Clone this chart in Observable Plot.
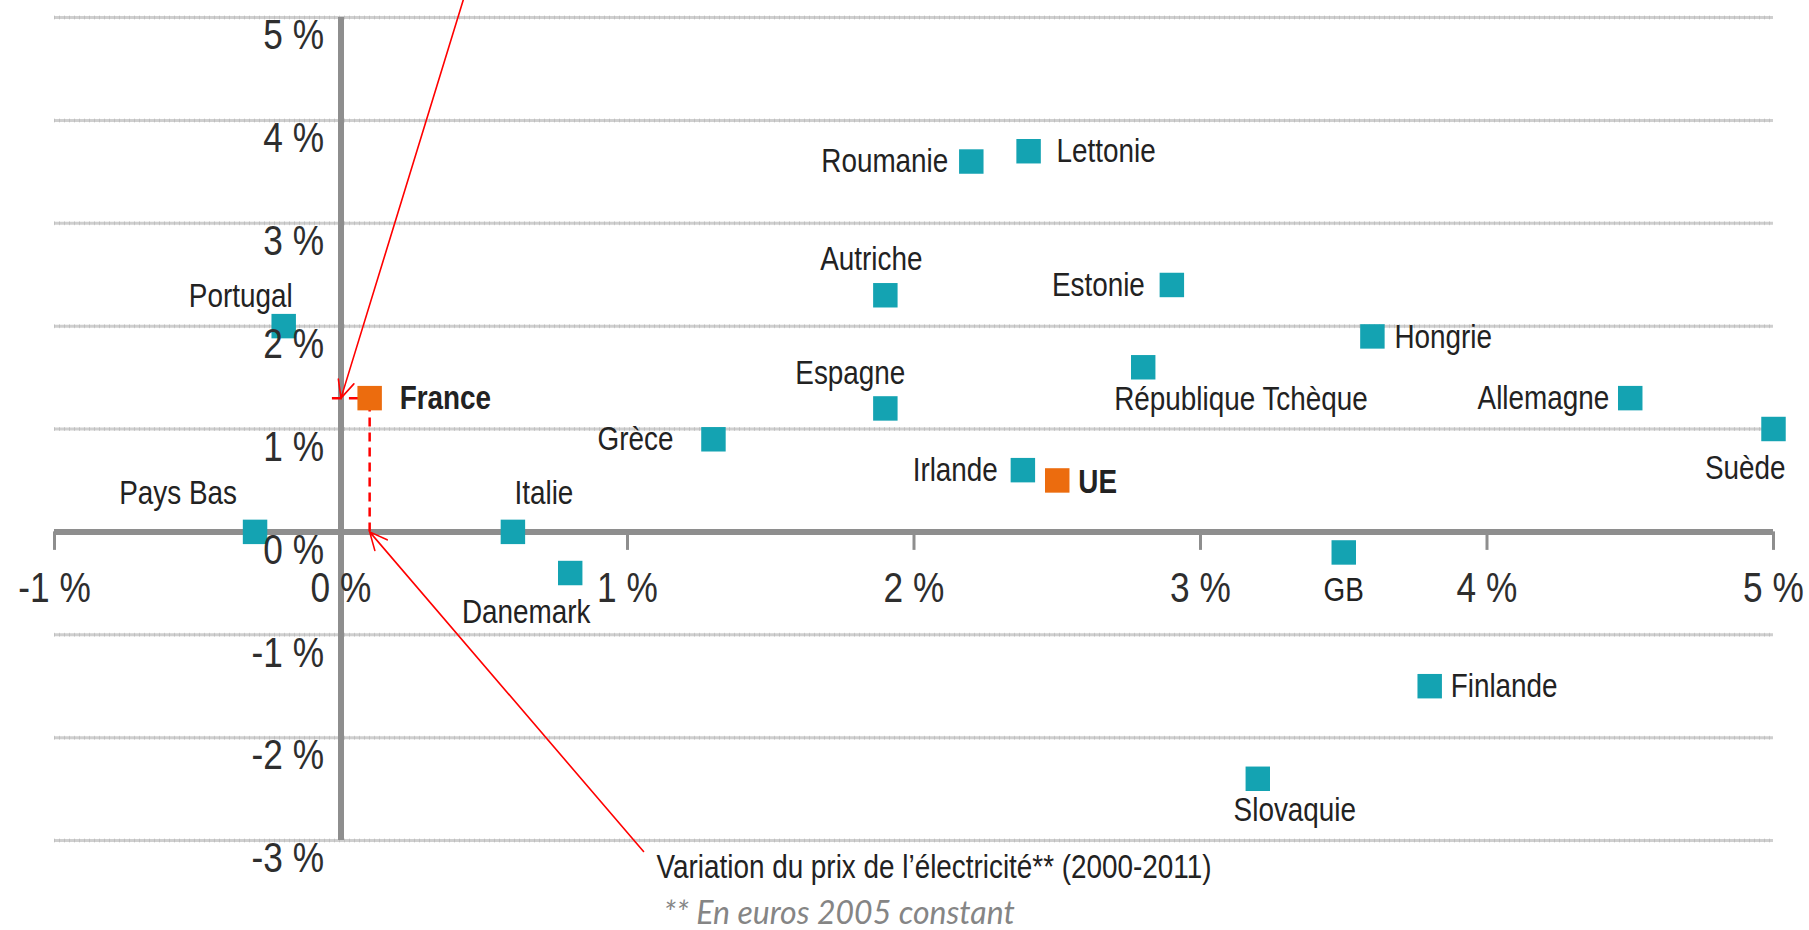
<!DOCTYPE html>
<html><head><meta charset="utf-8">
<script src="https://cdn.jsdelivr.net/npm/d3@7"></script>
<script src="https://cdn.jsdelivr.net/npm/@observablehq/plot@0.6"></script>
<style>body{margin:0;background:#fff;} svg{display:block;}</style>
</head><body><div id="chart"></div>
<script>
// ---- data ----
const countries = ["Portugal","France","Pays Bas","Italie","Danemark","Grèce","Espagne","Autriche","Roumanie","Lettonie","Estonie","Irlande","UE","République Tchèque","Hongrie","Allemagne","Suède","GB","Finlande","Slovaquie"];
const prixElectricite = [-0.2, 0.1, -0.3, 0.6, 0.8, 1.3, 1.9, 1.9, 2.2, 2.4, 2.9, 2.38, 2.5, 2.8, 3.6, 4.5, 5.0, 3.5, 3.8, 3.2];
const valeurVerticale = [2.0, 1.3, 0.0, 0.0, -0.4, 0.9, 1.2, 2.3, 3.6, 3.7, 2.4, 0.6, 0.5, 1.6, 1.9, 1.3, 1.0, -0.2, -1.5, -2.4];
const highlighted = ["France", "UE"];
const xTicks = [-1, 0, 1, 2, 3, 4, 5];
const xTickLabels = ["-1 %", "0 %", "1 %", "2 %", "3 %", "4 %", "5 %"];
const yTicks = [-3, -2, -1, 0, 1, 2, 3, 4, 5];
const yTickLabels = ["-3 %", "-2 %", "-1 %", "0 %", "1 %", "2 %", "3 %", "4 %", "5 %"];
const axisTitle = "Variation du prix de l’électricité** (2000-2011)";
const footnote = "** En euros 2005 constant";

// ---- layout (label placement, px) ----
const labelPlacement = {
  "Portugal": {a: "middle", dx: -43, dy: -30},
  "France": {a: "start", dx: 30, dy: 0},
  "Pays Bas": {a: "middle", dx: -77, dy: -39},
  "Italie": {a: "middle", dx: 31, dy: -39},
  "Danemark": {a: "middle", dx: -44, dy: 39},
  "Grèce": {a: "end", dx: -40, dy: 0},
  "Espagne": {a: "middle", dx: -35, dy: -35},
  "Autriche": {a: "middle", dx: -14, dy: -36},
  "Roumanie": {a: "end", dx: -23, dy: 0},
  "Lettonie": {a: "start", dx: 28, dy: 0},
  "Estonie": {a: "end", dx: -27, dy: 0},
  "Irlande": {a: "end", dx: -25, dy: 0},
  "UE": {a: "start", dx: 21, dy: 2},
  "République Tchèque": {a: "start", dx: -29, dy: 32},
  "Hongrie": {a: "start", dx: 22, dy: 1},
  "Allemagne": {a: "end", dx: -21, dy: 0},
  "Suède": {a: "end", dx: 12, dy: 39},
  "GB": {a: "middle", dx: 0, dy: 38},
  "Finlande": {a: "start", dx: 21, dy: 0},
  "Slovaquie": {a: "middle", dx: 37, dy: 31}
};

const data = countries.map((c, i) => ({country: c, x: prixElectricite[i], y: valeurVerticale[i], hl: highlighted.includes(c)}));
const france = data.find(d => d.country === "France");
// annotation arrows (tails in data units, heads on France's coordinates)
const annotationArrows = [
  {x1: 0.43, y1: 5.2, x2: 0, y2: france.y},
  {x1: 1.056, y1: -3.107, x2: france.x, y2: 0}
];

const FONT = '"Liberation Sans", Arial, sans-serif';
const TEAL = "#14a3b2", ORANGE = "#ec6c0e", AXIS = "#8e8e8e", RED = "#ff0000";

const labelMarks = data.map(d => {
  const p = labelPlacement[d.country];
  return Plot.text([d], {x: "x", y: "y", text: "country", textAnchor: p.a, dx: p.dx, dy: p.dy,
    fontSize: 34, fontWeight: d.hl ? "bold" : "normal", fill: "#222"});
});

const chart = Plot.plot({
  width: 1809, height: 930,
  marginLeft: 54, marginRight: 36, marginTop: 17, marginBottom: 90,
  x: {domain: [-1, 5], axis: null},
  y: {domain: [-3, 5], axis: null},
  style: {fontFamily: FONT, background: "#fff", overflow: "visible"},
  marks: [
    Plot.ruleY(yTicks.filter(d => d !== 0), {x1: -1, x2: 5, stroke: "#cfcfcf", strokeWidth: 3}),
    Plot.ruleY(yTicks.filter(d => d !== 0), {x1: -1, x2: 5, stroke: "#b0b0b0", strokeWidth: 4, strokeDasharray: "1,4", strokeOpacity: 0.5}),
    Plot.ruleY([0], {x1: -1, x2: 5, stroke: AXIS, strokeWidth: 6}),
    Plot.ruleX(xTicks.filter(d => d !== 0), {y1: 0, y2: -0.18, stroke: AXIS, strokeWidth: 3}),
    Plot.ruleX([0], {y1: -3, y2: 5, stroke: AXIS, strokeWidth: 6}),
    Plot.ruleY([france], {y: "y", x1: -0.03, x2: "x", stroke: RED, strokeWidth: 2.5, strokeDasharray: "10,7"}),
    Plot.ruleX([france], {x: "x", y1: 0, y2: "y", stroke: RED, strokeWidth: 2.5, strokeDasharray: "9,6"}),
    Plot.dot(data, {x: "x", y: "y", symbol: "square", r: 13.8, fill: d => d.hl ? ORANGE : TEAL, stroke: "none"}),
    Plot.text(yTicks, {x: 0, y: d => d, text: (d, i) => yTickLabels[i], textAnchor: "end", dx: -17, dy: 18, fontSize: 43, fill: "#2e2e2e"}),
    Plot.text(xTicks, {x: d => d, y: 0, text: (d, i) => xTickLabels[i], dy: 56, fontSize: 43, fill: "#2e2e2e"}),
    ...labelMarks,
    Plot.arrow(annotationArrows, {x1: "x1", y1: "y1", x2: "x2", y2: "y2", stroke: RED, strokeWidth: 1.6, headLength: 18, headAngle: 50}),
    Plot.text([axisTitle], {text: d => d, frameAnchor: "bottom", dx: 20, dy: 37, fontSize: 34, fill: "#222"}),
    Plot.text([footnote], {text: d => d, frameAnchor: "bottom-left", textAnchor: "start", dx: 609, dy: 83, fontSize: 32, fontStyle: "italic", fill: "#858585", fontFamily: "Lato, 'Open Sans', sans-serif"})
  ]
});
// emulate the condensed typeface of the original: narrow every text horizontally (except the footnote)
chart.querySelectorAll("text").forEach(t => {
  if (t.textContent === footnote) return;
  const tr = t.getAttribute("transform") || "";
  t.setAttribute("transform", tr + " scale(0.82,1)");
});
document.getElementById("chart").appendChild(chart);
</script>
</body></html>
